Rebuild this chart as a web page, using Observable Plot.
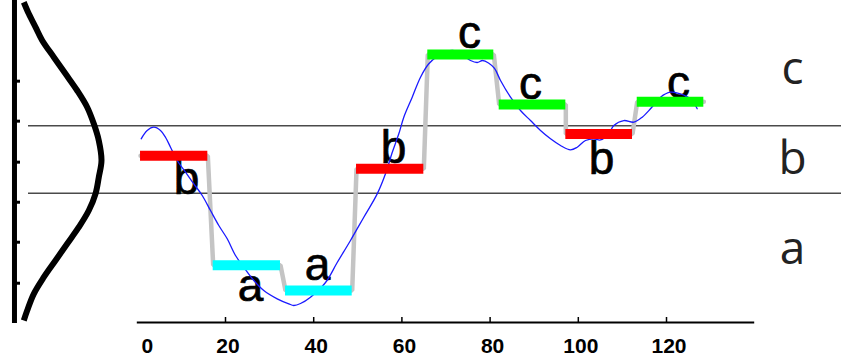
<!DOCTYPE html>
<html>
<head>
<meta charset="utf-8">
<script src="https://cdn.jsdelivr.net/npm/d3@7"></script>
<script src="https://cdn.jsdelivr.net/npm/@observablehq/plot@0.6"></script>
<style>
  html, body { margin: 0; padding: 0; background: #ffffff; }
  #chart svg { display: block; overflow: visible; }
</style>
</head>
<body>
<div id="chart"></div>
<script>
// ---------- data (x in axis units, y in standard-normal units) ----------
const xTicks = [20, 40, 60, 80, 100, 120];
const xTickLabels = [0, 20, 40, 60, 80, 100, 120];

// SAX breakpoints for an alphabet of size 3
const breakpoints = [-0.43, 0.43];

// PAA segments
const segStart  = [0.73, 17.21, 33.61, 49.71, 65.87, 82.06, 97.17, 113.36];
const segEnd    = [15.99, 32.47, 48.73, 64.97, 80.84, 97.17, 112.29, 128.46];
const segLevel  = [0.047, -1.348, -1.671, -0.119, 1.339, 0.702, 0.325, 0.736];
const segSymbol = ["b", "a", "a", "b", "c", "c", "b", "c"];

// symbol letters placed near each segment (baseline positions)
const letterX = [11.16, 25.67, 40.86, 58.10, 75.33, 89.16, 105.26, 122.72];
const letterY = [-0.434, -1.80, -1.54, -0.04, 1.416, 0.778, -0.179, 0.79];

// raw time series
const seriesX = [0.88, 2.24, 3.74, 5.26, 6.39, 7.53, 9.05, 10.93, 12.81, 14.72,
  16.60, 18.48, 20.39, 22.27, 24.15, 26.42, 28.68, 31.72, 34.35, 35.49,
  37.01, 39.27, 42.68, 45.33, 48.34, 51.36, 54.40, 56.28, 57.80, 59.30,
  60.43, 62.34, 64.22, 66.10, 68.00, 69.89, 71.47, 73.29, 75.56, 77.07,
  78.28, 79.64, 81.00, 82.36, 84.63, 86.89, 89.16, 91.43, 93.70, 95.96,
  98.23, 99.75, 101.63, 103.51, 105.03, 106.92, 108.05, 110.32, 112.59, 114.49,
  116.37, 118.64, 120.91, 123.17, 125.44, 126.96];
const seriesY = [0.264, 0.370, 0.412, 0.370, 0.284, 0.157, -0.013, -0.162, -0.310, -0.459,
  -0.651, -0.842, -1.011, -1.224, -1.374, -1.543, -1.671, -1.777, -1.841, -1.862,
  -1.837, -1.756, -1.569, -1.314, -1.033, -0.736, -0.438, -0.182, 0.089, 0.328,
  0.540, 0.795, 1.050, 1.221, 1.314, 1.365, 1.390, 1.352, 1.263, 1.237,
  1.263, 1.231, 1.161, 1.008, 0.795, 0.625, 0.497, 0.370, 0.264, 0.179,
  0.124, 0.157, 0.242, 0.264, 0.249, 0.328, 0.434, 0.497, 0.476, 0.540,
  0.647, 0.795, 0.858, 0.838, 0.774, 0.647];

// Gaussian curve on the left (x = density drawn sideways, y = value)
const gaussX = [-25.74, -24.60, -23.08, -21.56, -18.93, -16.28, -13.63, -11.36, -9.86, -8.73, -8.12,
  -8.73, -9.48, -11.00, -13.27, -15.90, -18.55, -21.20, -23.47, -24.97, -25.74];
const gaussY = [2.006, 1.858, 1.688, 1.518, 1.305, 1.093, 0.880, 0.667, 0.455, 0.242, -0.013,
  -0.226, -0.438, -0.651, -0.864, -1.075, -1.288, -1.501, -1.713, -1.926, -2.054];

// vertical axis of the Gaussian
const vAxisX = -27.85;
const vAxisRange = [-2.092, 2.028];
const vAxisTicks = [0.999, 0.489, -0.034, -0.545, -1.055, -1.578];
const vTickEnd = -26.49;

// alphabet labels on the right
const alphabet = ["c", "b", "a"];
const alphabetY = [0.957, -0.183, -1.327];
const alphabetX = 148.57;

const symbolColors = {a: "#00ffff", b: "#ff0000", c: "#00ff00"};
const xAxisLine = [0, 140];
const xAxisY = -2.079;
const xTickTop = -2.015;
const xDomain = [-31.02, 159.68];
const breakStart = -24.67;

// ---------- tables built from the arrays ----------
const segments = segSymbol.map((s, i) => ({x1: segStart[i], x2: segEnd[i], y: segLevel[i], s}));
const letters = segSymbol.map((s, i) => ({x: letterX[i], y: letterY[i], s}));
const series = seriesX.map((x, i) => ({x, y: seriesY[i]}));
const gauss = gaussX.map((x, i) => ({x, y: gaussY[i]}));
const stepLine = segments.flatMap(d => [{x: d.x1, y: d.y}, {x: d.x2, y: d.y}]);
const alpha = alphabet.map((s, i) => ({x: alphabetX, y: alphabetY[i], s}));

const axisFont = "Liberation Sans, Arial, Helvetica, sans-serif";

const chart = Plot.plot({
  width: 841,
  height: 362,
  marginTop: 0,
  marginRight: 0,
  marginBottom: 40,
  marginLeft: 0,
  style: {background: "#ffffff", overflow: "visible"},
  x: {domain: xDomain},
  y: {domain: [xAxisY, 2.028], axis: null},
  marks: [
    // breakpoint lines
    Plot.ruleY(breakpoints, {x1: breakStart, x2: xDomain[1], stroke: "#4a4a4a", strokeWidth: 1.6}),
    // left vertical axis + ticks
    Plot.ruleX([vAxisX], {y1: vAxisRange[0], y2: vAxisRange[1], stroke: "#000", strokeWidth: 5}),
    Plot.ruleY(vAxisTicks, {x1: vAxisX, x2: vTickEnd, stroke: "#000", strokeWidth: 3}),
    // Gaussian
    Plot.line(gauss, {x: "x", y: "y", curve: "catmull-rom", stroke: "#000", strokeWidth: 6, strokeLinecap: "butt"}),
    // PAA step line
    Plot.line(stepLine, {x: "x", y: "y", stroke: "#c4c4c4", strokeWidth: 4.5, strokeLinejoin: "miter"}),
    // symbol letters
    Plot.text(letters, {x: "x", y: "y", text: "s", lineAnchor: "bottom", fontSize: 46,
      fontFamily: axisFont, fill: "#000", stroke: "#000", strokeWidth: 0.7}),
    // raw series
    Plot.line(series, {x: "x", y: "y", curve: "catmull-rom", stroke: "#1a1aff", strokeWidth: 1.3}),
    // symbol bars
    Plot.ruleY(segments, {x1: "x1", x2: "x2", y: "y", stroke: d => symbolColors[d.s], strokeWidth: 10}),
    // alphabet labels on the right
    Plot.text(alpha, {x: "x", y: "y", text: "s", lineAnchor: "bottom", fontSize: 46,
      fontFamily: "Open Sans, sans-serif", fill: "#222"}),
    // x axis line and ticks
    Plot.ruleY([xAxisY], {x1: xAxisLine[0], x2: xAxisLine[1], stroke: "#000", strokeWidth: 2}),
    Plot.ruleX(xTicks, {y1: xAxisY, y2: xTickTop, stroke: "#000", strokeWidth: 1.5}),
    Plot.axisX(xTickLabels.slice(1), {tickSize: 0, tickPadding: 16, dx: 2.5, label: null,
      fontSize: 21, fontFamily: axisFont, fontWeight: "bold"}),
    Plot.axisX(xTickLabels.slice(0, 1), {tickSize: 0, tickPadding: 16, dx: 10, label: null,
      fontSize: 21, fontFamily: axisFont, fontWeight: "bold"})
  ]
});
document.getElementById("chart").appendChild(chart);
</script>
</body>
</html>
